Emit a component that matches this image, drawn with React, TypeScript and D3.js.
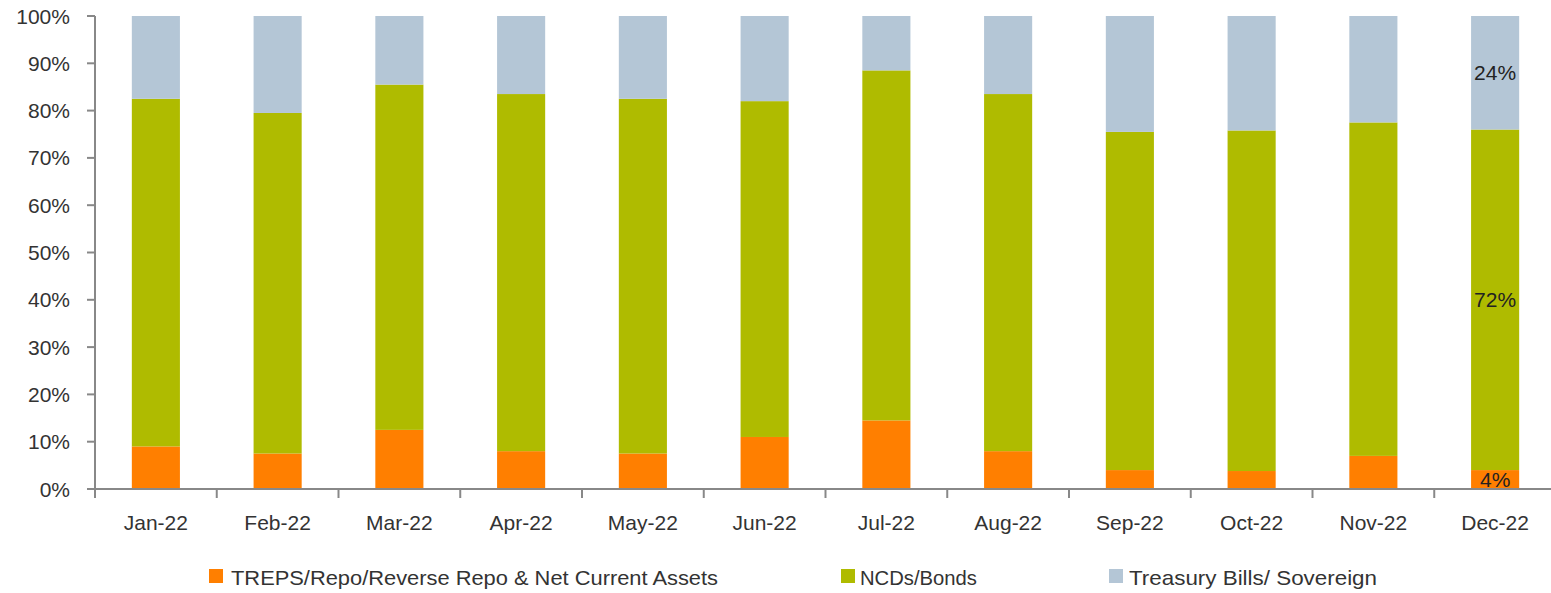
import * as d3 from 'd3';

const months = ['Jan-22', 'Feb-22', 'Mar-22', 'Apr-22', 'May-22', 'Jun-22', 'Jul-22', 'Aug-22', 'Sep-22', 'Oct-22', 'Nov-22', 'Dec-22'];
const treps = [9, 7.5, 12.5, 8, 7.5, 11, 14.5, 8, 4, 3.8, 7, 4];
const ncds = [73.5, 72, 73, 75.5, 75, 71, 74, 75.5, 71.5, 72, 70.5, 72];
const tbills = [17.5, 20.5, 14.5, 16.5, 17.5, 18, 11.5, 16.5, 24.5, 24.2, 22.5, 24];
const seriesNames = ['TREPS/Repo/Reverse Repo & Net Current Assets', 'NCDs/Bonds', 'Treasury Bills/ Sovereign'];
const colors = ['#ff7f00', '#afbb00', '#b4c6d6'];
// data labels shown only on last bar
const labelled = ['Dec-22'];

const width = 1551;
const height = 593;
const margin = { top: 16, left: 95, bottom: 104 };
const font = '"Liberation Sans", Arial, sans-serif';

function App() {
  const rows = months.map((m, i) => ({ month: m, a: treps[i], b: ncds[i], c: tbills[i] }));
  const stack = d3.stack<any>().keys(['a', 'b', 'c'])(rows);

  const x = d3.scaleBand()
    .domain(months)
    .range([margin.left, margin.left + 1461])
    .paddingInner(0.605)
    .paddingOuter(0.3025);
  const y = d3.scaleLinear().domain([0, 100]).range([height - margin.bottom, margin.top]);

  const y0 = y(0);
  const ticks = d3.range(0, 101, 10);
  const step = x.step();

  const legendItems = [
    { x: 209, tx: 231, w: 487 },
    { x: 841, tx: 860, w: 117 },
    { x: 1109, tx: 1129, w: 248 },
  ];

  return (
    <svg width={width} height={height} style={{ display: 'block', position: 'absolute', left: 0, top: 0 }}>
      <rect width={width} height={height} fill="#fff" />
      {stack.map((s, si) => (
        <g key={si} fill={colors[si]}>
          {s.map((d, i) => (
            <rect
              key={i}
              x={x(months[i])}
              y={y(d[1])}
              width={x.bandwidth()}
              height={y(d[0]) - y(d[1])}
            />
          ))}
        </g>
      ))}
      {stack.map((s, si) =>
        s.map((d, i) =>
          labelled.includes(months[i]) ? (
            <text
              key={`${si}-${i}`}
              x={(x(months[i]) ?? 0) + x.bandwidth() / 2}
              y={(y(d[0]) + y(d[1])) / 2}
              dy="0.35em"
              textAnchor="middle"
              fontSize={21}
              fontFamily={font}
              fill="#222"
            >
              {Math.round(d[1] - d[0])}%
            </text>
          ) : null
        )
      )}
      {/* axes */}
      <g stroke="#888" strokeWidth={2}>
        <line x1={margin.left} x2={margin.left} y1={y(100)} y2={y0} />
        {ticks.map(t => (
          <line key={t} x1={margin.left - 8} x2={margin.left} y1={y(t)} y2={y(t)} />
        ))}
        <line x1={margin.left} x2={margin.left + 1461} y1={y0} y2={y0} />
        {months.map((m, i) => (
          <line key={m} x1={margin.left + i * step} x2={margin.left + i * step} y1={y0} y2={y0 + 9} />
        ))}
      </g>
      <g fontFamily={font} fontSize={21} fill="#333">
        {ticks.map(t => (
          <text key={t} x={70} y={y(t)} dy="0.36em" textAnchor="end">{t}%</text>
        ))}
        {months.map(m => (
          <text key={m} x={(x(m) ?? 0) + x.bandwidth() / 2} y={530} textAnchor="middle">{m}</text>
        ))}
      </g>
      <g fontFamily={font} fontSize={21} fill="#333">
        {seriesNames.map((n, i) => (
          <g key={n}>
            <rect x={legendItems[i].x} y={569} width={14} height={14} fill={colors[i]} />
            <text x={legendItems[i].tx} y={585} textLength={legendItems[i].w} lengthAdjust="spacingAndGlyphs">{n}</text>
          </g>
        ))}
      </g>
    </svg>
  );
}

export default App;
